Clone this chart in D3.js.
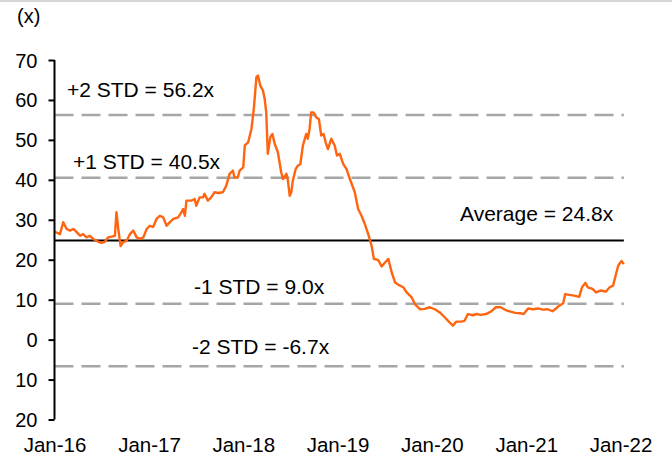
<!DOCTYPE html>
<html>
<head>
<meta charset="utf-8">
<script src="https://cdn.jsdelivr.net/npm/d3@7"></script>
<style>
  html, body { margin: 0; padding: 0; background: #fff; }
  svg { display: block; font-family: "Liberation Sans", Arial, sans-serif; }
</style>
</head>
<body>
<svg id="chart" width="672" height="459"></svg>
<script>
// Forward P/E multiple, weekly observations
const dates = [
  "2016-01-02","2016-01-22","2016-02-04","2016-02-17","2016-03-01","2016-03-14","2016-03-27","2016-04-09",
  "2016-04-21","2016-05-04","2016-05-17","2016-05-30","2016-06-18","2016-07-01","2016-07-14","2016-07-27",
  "2016-08-09","2016-08-22","2016-08-28","2016-09-04","2016-09-13","2016-09-23","2016-10-06","2016-10-19",
  "2016-11-01","2016-11-14","2016-11-27","2016-12-10","2016-12-23","2017-01-04","2017-01-17","2017-01-30",
  "2017-02-12","2017-02-25","2017-03-10","2017-03-23","2017-04-05","2017-04-24","2017-05-07","2017-05-13",
  "2017-05-20","2017-05-26","2017-06-14","2017-06-27","2017-07-03","2017-07-16","2017-07-29","2017-08-04",
  "2017-08-17","2017-08-30","2017-09-12","2017-09-25","2017-10-14","2017-10-27","2017-11-09","2017-11-22",
  "2017-11-28","2017-12-11","2017-12-18","2018-01-01","2018-01-07","2018-01-20","2018-02-02","2018-02-11",
  "2018-02-21","2018-02-27","2018-03-08","2018-03-18","2018-03-25","2018-03-31","2018-04-06","2018-04-16",
  "2018-04-24","2018-05-03","2018-05-15","2018-05-28","2018-06-04","2018-06-17","2018-06-23","2018-06-30",
  "2018-07-06","2018-07-12","2018-07-23","2018-08-01","2018-08-10","2018-08-20","2018-09-02","2018-09-08",
  "2018-09-15","2018-09-21","2018-09-30","2018-10-11","2018-10-21","2018-10-30","2018-11-08","2018-11-16",
  "2018-11-25","2018-12-08","2018-12-21","2018-12-30","2019-01-10","2019-01-23","2019-02-05","2019-02-18",
  "2019-03-09","2019-03-22","2019-04-04","2019-04-17","2019-04-30","2019-05-13","2019-05-22","2019-06-08",
  "2019-06-21","2019-07-04","2019-07-17","2019-07-30","2019-08-12","2019-08-25","2019-09-13","2019-09-26",
  "2019-10-15","2019-10-28","2019-11-16","2019-12-05","2019-12-24","2020-01-13","2020-02-01","2020-02-20",
  "2020-03-10","2020-03-23","2020-04-05","2020-04-24","2020-05-07","2020-05-20","2020-06-08","2020-06-21",
  "2020-07-10","2020-07-29","2020-08-17","2020-09-05","2020-09-24","2020-10-13","2020-11-01","2020-11-20",
  "2020-12-09","2020-12-22","2021-01-08","2021-01-27","2021-02-15","2021-03-06","2021-03-25","2021-04-13",
  "2021-04-26","2021-05-09","2021-05-24","2021-06-01","2021-06-17","2021-07-06","2021-07-25","2021-08-05",
  "2021-08-18","2021-08-27","2021-09-15","2021-09-28","2021-10-17","2021-11-05","2021-11-20","2021-12-03",
  "2021-12-13","2021-12-23","2022-01-05","2022-01-14"
];
const peValues = [
  27.0, 26.4, 29.4, 27.7, 27.3, 27.7, 26.9, 26.0,
  26.4, 25.6, 26.0, 25.2, 24.5, 24.2, 24.5, 25.6,
  25.8, 26.0, 31.9, 27.7, 23.4, 24.4, 24.7, 26.4,
  27.3, 25.6, 25.2, 25.6, 27.7, 28.5, 28.2, 30.2,
  31.0, 30.6, 28.5, 29.4, 30.2, 30.6, 31.9, 32.7,
  31.0, 34.8, 34.8, 35.2, 33.5, 35.6, 35.6, 36.5,
  34.8, 35.6, 36.9, 36.7, 36.9, 38.5, 41.5, 42.3,
  40.6, 40.6, 42.3, 43.1, 48.6, 49.4, 52.8, 57.8,
  65.7, 66.1, 63.6, 62.4, 60.3, 56.9, 46.5, 50.7,
  51.5, 49.0, 46.9, 41.9, 40.2, 41.5, 39.8, 36.0,
  36.9, 39.8, 42.7, 43.6, 43.9, 48.6, 51.5, 50.3,
  52.8, 56.9, 56.9, 55.6, 55.2, 51.1, 51.5, 49.4,
  47.7, 50.3, 48.6, 46.1, 46.5, 44.0, 42.7, 40.2,
  36.9, 32.7, 31.0, 28.9, 26.4, 23.5, 20.2, 19.9,
  18.3, 19.3, 20.2, 16.8, 14.3, 13.7, 13.1, 11.8,
  10.6, 8.9, 7.6, 7.7, 8.1, 7.6, 6.8, 5.6,
  4.3, 3.5, 4.5, 4.5, 4.7, 6.4, 6.1, 6.4,
  6.2, 6.4, 7.0, 8.1, 8.1, 7.4, 7.0, 6.7,
  6.6, 6.4, 7.8, 7.6, 7.8, 7.5, 7.6, 7.1,
  7.8, 8.5, 9.1, 11.4, 11.2, 11.0, 10.7, 13.1,
  14.2, 13.1, 12.7, 11.8, 12.3, 12.0, 13.1, 13.5,
  16.0, 18.5, 19.7, 18.9
];

// Reference bands
const refLabels = ["+2 STD = 56.2x", "+1 STD = 40.5x", "Average = 24.8x", "-1 STD = 9.0x", "-2 STD = -6.7x"];
const refValues = [56.2, 40.5, 24.8, 9.0, -6.7];

// Axis ticks
const yTicks = [70, 60, 50, 40, 30, 20, 10, 0, -10, -20];
const xTickLabels = ["Jan-16", "Jan-17", "Jan-18", "Jan-19", "Jan-20", "Jan-21", "Jan-22"];
const xTickDates = ["2016-01-01", "2017-01-01", "2018-01-01", "2019-01-01", "2020-01-01", "2021-01-01", "2022-01-01"];

const parse = d3.utcParse("%Y-%m-%d");
const series = dates.map((d, i) => ({ date: parse(d), value: peValues[i] }));

const svg = d3.select("#chart");
const W = 672;

const x = d3.scaleUtc()
  .domain([parse(xTickDates[0]), parse(xTickDates[xTickDates.length - 1])])
  .range([54.5, 620.5]);
const y = d3.scaleLinear().domain([-20, 70]).range([419.5, 60]);

// thin rule along the top edge
svg.append("line")
  .attr("x1", 0).attr("x2", W).attr("y1", 1).attr("y2", 1)
  .attr("stroke", "#c8c8c8").attr("stroke-width", 1.5);

// unit label
svg.append("text")
  .attr("x", 17).attr("y", 23)
  .attr("font-size", 20).attr("fill", "#000")
  .text("(x)");

const lineEnd = x(series[series.length - 1].date);
const axisX = x(parse(xTickDates[0]));

// reference lines
refValues.forEach((v, i) => {
  const isAvg = i === 2;
  svg.append("line")
    .attr("x1", axisX).attr("x2", lineEnd)
    .attr("y1", y(v)).attr("y2", y(v))
    .attr("stroke", isAvg ? "#000" : "#a6a6a6")
    .attr("stroke-width", isAvg ? 2 : 2.5)
    .attr("stroke-dasharray", isAvg ? null : "19,8");
});

// reference labels
const labelPos = [
  { x: 67, dy: -18 },
  { x: 73, dy: -9 },
  { x: 460, dy: -20 },
  { x: 194, dy: -10 },
  { x: 192, dy: -12 }
];
refLabels.forEach((t, i) => {
  svg.append("text")
    .attr("x", labelPos[i].x)
    .attr("y", y(refValues[i]) + labelPos[i].dy)
    .attr("font-size", 21).attr("fill", "#000")
    .text(t);
});

// P/E series
const line = d3.line()
  .x(d => x(d.date))
  .y(d => y(d.value));
svg.append("path")
  .datum(series)
  .attr("fill", "none")
  .attr("stroke", "#ff6410")
  .attr("stroke-width", 2.4)
  .attr("stroke-linejoin", "round")
  .attr("d", line);

// y axis
const yAxis = d3.axisLeft(y)
  .tickValues(yTicks)
  .tickSize(6)
  .tickPadding(11)
  .tickFormat(d => String(Math.abs(d)));
const gy = svg.append("g")
  .attr("transform", `translate(${axisX},0)`)
  .call(yAxis);
gy.select(".domain").attr("stroke", "#000").attr("stroke-width", 2)
  .attr("d", `M0,${y(70)}V${y(-20)}`);
gy.selectAll(".tick line").attr("stroke", "#000").attr("stroke-width", 2);
gy.selectAll(".tick text")
  .attr("font-size", 20)
  .attr("font-family", "Liberation Sans, Arial, sans-serif")
  .attr("fill", "#000")
  .attr("dy", "0.35em");

// x axis labels (no axis line)
const xAxis = d3.axisBottom(x)
  .tickValues(xTickDates.map(parse))
  .tickSize(0)
  .tickPadding(0)
  .tickFormat((d, i) => xTickLabels[i]);
const gx = svg.append("g")
  .attr("transform", `translate(0,${y(-20)})`)
  .call(xAxis);
gx.select(".domain").remove();
gx.selectAll(".tick text")
  .attr("font-size", 20.5)
  .attr("font-family", "Liberation Sans, Arial, sans-serif")
  .attr("fill", "#000")
  .attr("dy", null)
  .attr("y", 32);
</script>
</body>
</html>
